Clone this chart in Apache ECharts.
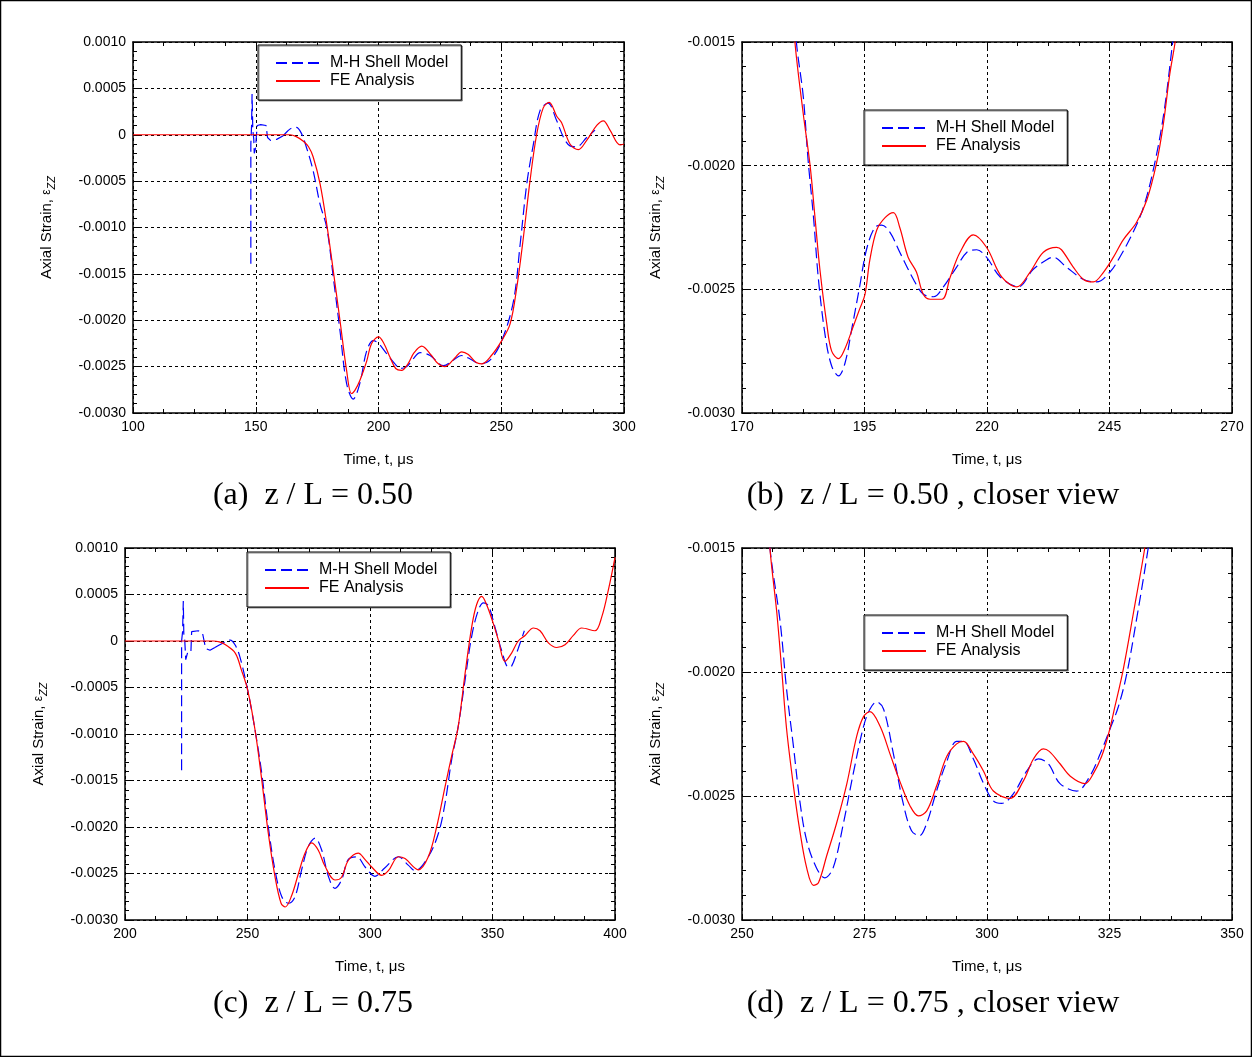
<!DOCTYPE html>
<html lang="en">
<head>
<meta charset="UTF-8"/>
<title>Axial strain histories</title>
<script src="https://cdn.jsdelivr.net/npm/echarts@6/dist/echarts.min.js"></script>
<style>
  html, body { margin: 0; padding: 0; background: #fff; }
  #chart { width: 1252px; height: 1057px; }
</style>
</head>
<body>
<div id="chart"></div>
<script>
// ---- data: [time in us, axial strain] ----
const MH = 'M-H Shell Model';
const FE = 'FE Analysis';

// (a) z/L = 0.50
const aMhSpike = [[148.0,-0.00139],[148.0,-0.0001],[148.3,0.0001],[148.5,0.00044],[148.8,0.00005],[149.2,-0.00005],
  [149.4,-0.0002],[149.9,-0.00015],[150.3,0.0],[150.6,0.0001],[152.0,0.00011],[154.2,0.0001],[154.8,-0.00003],
  [156.0,-0.00006],[158.5,-0.00005],[161.2,-0.00001]];
const aMh = [[161.2,-0.00001],[163.0,0.00004],[164.5,0.00007],[166.5,0.00008],[168.5,0.00002],[170.7,-0.00014],
  [173.4,-0.00039],[176.2,-0.00075],[178.9,-0.001],[181.6,-0.00154],[184.3,-0.00211],[187.0,-0.00268],[189.7,-0.00285],
  [192.4,-0.00268],[195.2,-0.00233],[197.9,-0.00222],[200.0,-0.00225],[203.3,-0.00236],[206.7,-0.00247],[208.8,-0.00252],
  [211.5,-0.0025],[214.0,-0.00242],[217.0,-0.00235],[221.0,-0.00238],[226.5,-0.00249],[230.0,-0.00244],[233.9,-0.00238],
  [237.5,-0.00242],[241.3,-0.00247],[245.4,-0.00243],[250.2,-0.00222],[255.0,-0.00179],[257.7,-0.00118],[260.4,-0.00053],
  [263.1,-0.0001],[265.8,0.00026],[269.0,0.00034],[272.6,0.00015],[275.4,-0.00003],[278.0,-0.00012],[280.7,-0.00013],
  [284.8,-0.00003],[288.2,0.00005]];
const aFe = [[100,0],[160,0],[164,0],[166.5,-0.00002],[169.4,-0.00007],[171.5,-0.00013],[173.4,-0.00024],[176.2,-0.00053],
  [178.9,-0.00096],[181.6,-0.00147],[184.3,-0.002],[187.0,-0.00254],[189.0,-0.00279],[190.5,-0.00275],[192.4,-0.00265],
  [195.2,-0.00244],[197.2,-0.00225],[200.0,-0.00218],[202.2,-0.00225],[204.7,-0.0024],[207.0,-0.00252],[209.4,-0.00254],
  [212.0,-0.00247],[214.5,-0.00235],[217.6,-0.00228],[221.6,-0.00238],[224.0,-0.00246],[227.1,-0.0025],[231.0,-0.00241],
  [233.9,-0.00234],[236.6,-0.00237],[239.5,-0.00245],[242.0,-0.00247],[246.0,-0.00238],[250.2,-0.00222],[253.6,-0.00204],
  [256.3,-0.00165],[259.0,-0.00111],[261.7,-0.0005],[264.4,0.0],[267.1,0.00029],[269.5,0.00035],[272.6,0.0002],
  [274.6,0.00013],[278.0,-0.0001],[281.4,-0.00016],[284.8,-0.00006],[288.9,0.0001],[291.6,0.00015],[294.3,0.00005],
  [298.4,-0.00011],[300.0,-0.0001]];

// (b) z/L = 0.50, closer view
const bMh = [[180.6,-0.0013],[181.1,-0.0015],[182.5,-0.00172],[183.5,-0.00198],[184.6,-0.00221],[185.6,-0.00246],
  [187.0,-0.00269],[188.3,-0.00281],[189.7,-0.00285],[191.0,-0.0028],[192.4,-0.00266],[194.0,-0.00249],[195.4,-0.00234],
  [197.1,-0.00225],[198.5,-0.00224],[200.2,-0.00227],[202.2,-0.00235],[205.0,-0.00246],[207.0,-0.00252],[209.1,-0.00253],
  [211.1,-0.00249],[213.8,-0.00241],[215.9,-0.00235],[217.9,-0.00234],[219.9,-0.00237],[222.7,-0.00245],[226.4,-0.00249],
  [229.4,-0.00242],[232.2,-0.00238],[233.5,-0.00237],[236.2,-0.00241],[239.7,-0.00246],[242.4,-0.00247],[245.1,-0.00243],
  [247.1,-0.00237],[249.8,-0.00227],[251.9,-0.00217],[253.9,-0.00202],[256.0,-0.0018],[257.9,-0.0015],[258.5,-0.0014]];
const bFe = [[180.3,-0.0013],[180.8,-0.0015],[182.5,-0.00179],[183.9,-0.002],[184.9,-0.00221],[185.9,-0.00242],
  [187.3,-0.00264],[188.3,-0.00275],[189.7,-0.00278],[191.0,-0.00274],[192.7,-0.00265],[194.0,-0.00258],[195.1,-0.00252],
  [196.1,-0.00238],[197.5,-0.00226],[199.2,-0.00221],[200.9,-0.00219],[202.2,-0.00225],[203.9,-0.00237],[205.6,-0.00243],
  [207.0,-0.00252],[208.4,-0.00254],[210.8,-0.00254],[212.5,-0.00245],[214.5,-0.00235],[217.2,-0.00228],[219.9,-0.00233],
  [223.0,-0.00245],[226.1,-0.00249],[228.8,-0.00243],[231.5,-0.00235],[234.2,-0.00233],[235.2,-0.00234],[237.6,-0.00241],
  [239.7,-0.00246],[241.7,-0.00247],[243.8,-0.00243],[245.8,-0.00237],[247.8,-0.0023],[250.5,-0.00223],[252.6,-0.00214],
  [254.6,-0.00199],[256.0,-0.00183],[257.3,-0.00163],[258.4,-0.0015],[259.0,-0.0014]];

// (c) z/L = 0.75
const cMhSpike = [[223.1,-0.00139],[223.1,0.0],[223.5,0.0001],[223.8,0.00043],[224.0,0.00008],[224.4,0.0],[224.8,-0.0002],
  [225.2,-0.00016],[225.6,-0.00012],[226.9,-0.00012],[227.2,0.0001],[229.9,0.00011],[231.6,0.00009],[232.3,0.0],
  [232.9,-0.00008],[234.7,-0.0001],[236.7,-0.00007]];
const cMh = [[236.7,-0.00007],[239.5,-0.00003],[242.9,0.00001],[244.9,-0.00004],[246.9,-0.00017],[250.1,-0.00053],
  [253.1,-0.00096],[255.8,-0.00142],[258.5,-0.002],[261.2,-0.00246],[264.0,-0.00275],[266.7,-0.00282],[269.4,-0.00275],
  [272.1,-0.00246],[274.8,-0.00221],[277.6,-0.00212],[280.3,-0.00225],[283.0,-0.00253],[285.7,-0.00266],[288.4,-0.00257],
  [291.1,-0.00235],[294.6,-0.00232],[298.0,-0.00243],[302.0,-0.00253],[306.0,-0.00244],[311.6,-0.00232],[315.6,-0.00241],
  [318.4,-0.00247],[323.8,-0.00232],[327.9,-0.00207],[330.6,-0.00175],[333.3,-0.00128],[336.0,-0.00092],[338.8,-0.00042],
  [341.5,0.00005],[344.2,0.00033],[346.3,0.00041],[348.3,0.00038],[351.0,0.00015],[353.7,-0.0001],[356.5,-0.00028],
  [357.8,-0.00027],[360.5,-0.00008],[363.0,0.00011]];
const cFe = [[200,0],[236,0],[238.5,-0.00001],[241.0,-0.00004],[245.0,-0.00013],[247.5,-0.00031],[250.1,-0.00053],
  [253.1,-0.00096],[255.8,-0.00149],[258.5,-0.00207],[261.2,-0.00253],[263.7,-0.00282],[265.4,-0.00286],[268.0,-0.00274],
  [270.8,-0.0025],[273.5,-0.00228],[276.2,-0.00217],[278.9,-0.00225],[281.6,-0.00242],[285.7,-0.00257],[288.4,-0.00254],
  [291.1,-0.00236],[295.2,-0.00228],[298.0,-0.00235],[300.7,-0.00243],[304.8,-0.00252],[307.5,-0.00247],[311.6,-0.00232],
  [314.3,-0.00234],[319.7,-0.00246],[323.8,-0.00232],[327.2,-0.002],[330.6,-0.00157],[333.3,-0.00124],[336.0,-0.00092],
  [338.8,-0.00035],[341.5,0.00015],[343.5,0.00039],[345.6,0.00048],[347.6,0.00039],[350.3,0.00019],[352.4,0.00001],
  [355.1,-0.00022],[357.8,-0.00013],[360.5,0.0],[363.3,0.00006],[366.7,0.00014],[369.4,0.00011],[372.8,-0.00002],
  [376.2,-0.00007],[379.6,-0.00004],[383.0,0.00006],[386.4,0.00014],[391.8,0.00011],[394.6,0.00026],[397.3,0.00055],
  [400.0,0.0009]];

// (d) z/L = 0.75, closer view
const dMh = [[255.2,-0.0013],[255.7,-0.0015],[257.8,-0.0018],[259.1,-0.00207],[260.5,-0.0023],[261.8,-0.00252],
  [263.2,-0.00268],[265.2,-0.00279],[266.9,-0.00283],[268.6,-0.00279],[270.7,-0.00261],[272.7,-0.00241],[274.8,-0.00222],
  [276.1,-0.00215],[277.5,-0.00212],[278.9,-0.00215],[280.9,-0.00233],[282.9,-0.00253],[284.6,-0.00264],[286.2,-0.00266],
  [287.7,-0.00261],[289.7,-0.00248],[291.8,-0.00236],[293.8,-0.00228],[295.2,-0.00228],[297.2,-0.00235],[299.3,-0.00245],
  [301.3,-0.00252],[303.0,-0.00253],[305.4,-0.00249],[308.1,-0.0024],[310.5,-0.00235],[312.5,-0.00237],[314.9,-0.00245],
  [318.3,-0.00248],[321.0,-0.00242],[323.1,-0.00233],[325.1,-0.00223],[326.8,-0.00214],[328.5,-0.00201],[330.5,-0.00179],
  [332.9,-0.0015],[333.5,-0.0014]];
const dFe = [[255.3,-0.0013],[255.7,-0.0015],[257.1,-0.00176],[258.1,-0.00199],[259.1,-0.00223],[260.5,-0.00246],
  [261.8,-0.00264],[263.2,-0.00279],[264.6,-0.00286],[265.6,-0.00285],[267.3,-0.00274],[269.3,-0.00261],[271.4,-0.00245],
  [273.4,-0.00226],[274.8,-0.00218],[276.1,-0.00216],[278.2,-0.00222],[280.2,-0.00233],[282.2,-0.00244],[284.3,-0.00254],
  [286.0,-0.00258],[287.7,-0.00256],[289.7,-0.00246],[291.8,-0.00234],[293.8,-0.00229],[295.2,-0.00228],[297.2,-0.00233],
  [299.3,-0.0024],[301.3,-0.00248],[304.7,-0.00251],[307.4,-0.00244],[309.5,-0.00235],[311.5,-0.00231],[312.7,-0.00232],
  [314.9,-0.00237],[317.0,-0.00242],[320.0,-0.00245],[321.7,-0.00241],[323.4,-0.00234],[324.8,-0.00225],[326.1,-0.00214],
  [327.8,-0.00199],[329.9,-0.00176],[332.2,-0.0015],[332.8,-0.0014]];

// axis ranges [min, max, interval]
const xRangeA = [100, 300, 50], yRangeA = [-0.003, 0.001, 0.0005];
const xRangeB = [170, 270, 25], yRangeB = [-0.003, -0.0015, 0.0005];
const xRangeC = [200, 400, 50], yRangeC = [-0.003, 0.001, 0.0005];
const xRangeD = [250, 350, 25], yRangeD = [-0.003, -0.0015, 0.0005];

const captions = ['(a)  z / L = 0.50', '(b)  z / L = 0.50 , closer view', '(c)  z / L = 0.75', '(d)  z / L = 0.75 , closer view'];

// ---- layout ----
const SANS = '"Liberation Sans", Arial, Helvetica, sans-serif';
const SERIF = '"Liberation Serif", "Times New Roman", Times, serif';

const panels = [
  { box: [133, 42, 491, 371], x: xRangeA, y: yRangeA, legend: [258, 45], cap: [313, 496],
    lines: [[MH, aMhSpike, false], [MH, aMh, true], [FE, aFe, true]] },
  { box: [742, 42, 490, 371], x: xRangeB, y: yRangeB, legend: [864, 110], cap: [933, 496],
    lines: [[MH, bMh, true], [FE, bFe, true]] },
  { box: [125, 548, 490, 372], x: xRangeC, y: yRangeC, legend: [247, 552], cap: [313, 1004],
    lines: [[MH, cMhSpike, false], [MH, cMh, true], [FE, cFe, true]] },
  { box: [742, 548, 490, 372], x: xRangeD, y: yRangeD, legend: [864, 615], cap: [933, 1004],
    lines: [[MH, dMh, true], [FE, dFe, true]] }
];

const lineStyles = {
  [MH]: { color: '#0000ff', width: 1.2, type: [11, 5] },
  [FE]: { color: '#ff0000', width: 1.2, type: 'solid' }
};

function xAxisOf(p, i, pos) {
  const main = pos === 'bottom';
  return {
    type: 'value', gridIndex: i, position: pos,
    min: p.x[0], max: p.x[1], interval: p.x[2],
    name: main ? 'Time, t, \u03bcs' : '', nameLocation: 'middle', nameGap: 39,
    nameTextStyle: { fontFamily: SANS, fontSize: 15, color: '#000' },
    axisLine: { show: true, onZero: false, lineStyle: { color: '#000', width: 1.5 } },
    axisTick: { show: true, inside: true, length: 6, lineStyle: { color: '#000' } },
    minorTick: { show: true, splitNumber: 4, length: 4, lineStyle: { color: '#000' } },
    axisLabel: { show: main, margin: 7, fontFamily: SANS, fontSize: 14, color: '#000',
                 showMinLabel: true, showMaxLabel: true },
    splitLine: { show: main, lineStyle: { color: '#000', type: [3, 3], width: 1 } }
  };
}

function yAxisOf(p, i, pos) {
  const main = pos === 'left';
  return {
    type: 'value', gridIndex: i, position: pos,
    min: p.y[0], max: p.y[1], interval: p.y[2],
    name: main ? 'Axial Strain, {e|\u03b5}{s|ZZ}' : '', nameLocation: 'middle', nameGap: 76,
    nameTextStyle: {
      fontFamily: SANS, fontSize: 15, color: '#000', lineHeight: 20,
      rich: {
        e: { fontFamily: SANS, fontSize: 12, color: '#000', lineHeight: 20 },
        s: { fontFamily: SANS, fontSize: 11, fontStyle: 'italic', color: '#000', lineHeight: 12, verticalAlign: 'bottom' }
      }
    },
    axisLine: { show: true, onZero: false, lineStyle: { color: '#000', width: 1.5 } },
    axisTick: { show: true, inside: true, length: 6, lineStyle: { color: '#000' } },
    minorTick: { show: true, splitNumber: 5, length: 4, lineStyle: { color: '#000' } },
    axisLabel: {
      show: main, margin: 7, fontFamily: SANS, fontSize: 14, color: '#000',
      showMinLabel: true, showMaxLabel: true,
      formatter: v => Math.abs(v) < 1e-10 ? '0' : v.toFixed(4)
    },
    splitLine: { show: main, lineStyle: { color: '#000', type: [3, 3], width: 1 } }
  };
}

const option = {
  animation: false,
  backgroundColor: '#fff',
  grid: [], xAxis: [], yAxis: [], legend: [], series: [], graphic: []
};

panels.forEach((p, i) => {
  option.grid.push({ left: p.box[0], top: p.box[1], width: p.box[2], height: p.box[3] });
  option.xAxis.push(xAxisOf(p, i, 'bottom'), xAxisOf(p, i, 'top'));
  option.yAxis.push(yAxisOf(p, i, 'left'), yAxisOf(p, i, 'right'));

  p.lines.forEach(([name, data, smooth]) => {
    option.series.push({
      type: 'line', name, data,
      xAxisIndex: 2 * i, yAxisIndex: 2 * i,
      symbol: 'none', smooth: smooth ? 0.35 : false,
      clip: true,
      itemStyle: { color: lineStyles[name].color },
      lineStyle: lineStyles[name],
      z: name === FE ? 3 : 2
    });
  });

  option.legend.push({
    left: p.legend[0], top: p.legend[1], orient: 'vertical',
    data: [MH, FE], selectedMode: false,
    backgroundColor: '#fff', borderColor: '#000', borderWidth: 1,
    shadowColor: 'rgba(0,0,0,0.45)', shadowOffsetX: 1, shadowOffsetY: 1, shadowBlur: 0,
    padding: [9, 13, 10, 17],
    itemWidth: 44, itemHeight: 14, itemGap: 0,
    itemStyle: { opacity: 0 },
    textStyle: { fontFamily: SANS, fontSize: 16, color: '#000', lineHeight: 18, padding: [0, 0, 0, 5] }
  });

  option.graphic.push({
    type: 'text', x: p.cap[0], y: p.cap[1], silent: true,
    style: { text: captions[i], fill: '#000', font: '32px ' + SERIF,
             textAlign: 'center', textVerticalAlign: 'middle' }
  });
});

// outer frame of the figure
option.graphic.push({
  type: 'rect', silent: true, z: 100,
  shape: { x: 0.5, y: 0.5, width: 1251, height: 1056 },
  style: { fill: 'none', stroke: '#000', lineWidth: 1.5 }
});

const chart = echarts.init(document.getElementById('chart'));
chart.setOption(option);
</script>
</body>
</html>
